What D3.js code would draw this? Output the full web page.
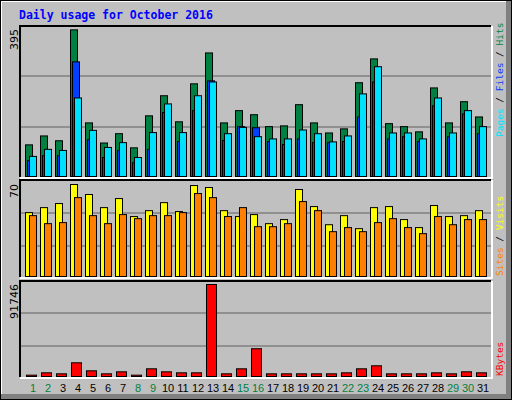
<!DOCTYPE html>
<html><head><meta charset="utf-8">
<script src="https://cdn.jsdelivr.net/npm/d3@7"></script>
<style>body{margin:0;background:#fff}svg{display:block}</style>
</head><body>
<script>
const days = d3.range(1,32);
const weekend = [1,2,8,9,15,16,22,23,29,30];
const hits  = [85,109,96,394,144,90,115,77,163,217,147,249,332,144,177,166,134,136,193,144,117,128,252,316,142,134,120,238,144,201,160];
const files = [43,56,56,308,99,51,70,37,73,172,94,177,257,97,134,131,94,86,101,91,91,94,160,254,101,107,94,190,107,168,115];
const pages = [54,73,70,211,124,78,91,51,118,195,118,217,254,115,132,107,101,101,125,115,93,109,222,295,117,117,101,211,117,177,134];
const visits= [48.6,52.4,55.5,70,62.4,52.4,59.3,45.6,50.1,56.2,49.4,69.2,67.7,50.1,45.6,47.1,40.2,43.3,66.2,53.2,39.4,46.3,36.4,52.4,53.2,43.3,37.2,54,45.6,46.3,50.1];
const sites = [46.3,40.2,41,60,46.3,40.2,47.1,44,46.3,46.3,48.6,63.1,60,45.6,52.4,37.9,37.9,40.2,57,50.1,34.1,37.2,34.1,41,44,37.2,32.6,45.6,39.4,43.3,43.3];
const kbytes= [1334,3670,2670,13680,5670,2670,4670,1334,7670,4670,3670,3670,91746,2670,7670,27690,2670,2670,2670,2670,2670,3670,7670,10680,2670,2670,2670,3670,2670,4670,3670];
const maxHits=395, maxVisits=70, maxKB=91746;

const W=512,H=400;
const svg=d3.select("body").append("svg").attr("width",W).attr("height",H);
svg.append("rect").attr("width",W).attr("height",H).attr("fill","#c0c0c0");
svg.append("path").attr("d",`M1,${H-1}V1H${W-1}`).attr("stroke","#fff").attr("stroke-width",2).attr("fill","none");
svg.append("rect").attr("x",W-6).attr("y",0).attr("width",6).attr("height",H).attr("fill","#808080");
svg.append("rect").attr("x",0).attr("y",H-6).attr("width",W).attr("height",6).attr("fill","#808080");
svg.append("rect").attr("x",0.5).attr("y",0.5).attr("width",W-1).attr("height",H-1).attr("fill","none").attr("stroke","#000");

svg.append("text").attr("x",19).attr("y",19).text("Daily usage for October 2016")
 .attr("font-family","DejaVu Sans Mono").attr("font-weight","bold").attr("font-size",11.5).attr("fill","#0000ff");

const x=d3.scaleBand().domain(days).range([25,490]).paddingInner(0);
const L=20,R=491;

function panel(y0,y1){
  svg.append("rect").attr("x",L).attr("y",y0).attr("width",R-L).attr("height",y1-y0).attr("fill","#c0c0c0");
  svg.append("path").attr("d",`M${L},${y1}V${y0}H${R}`).attr("stroke","#000").attr("stroke-width",2).attr("fill","none");
  svg.append("path").attr("d",`M${L},${y1+1}H${R+1}V${y0}`).attr("stroke","#fff").attr("stroke-width",2).attr("fill","none");
}
function grid(ys){ys.forEach(v=>svg.append("line").attr("x1",L+1).attr("x2",R).attr("y1",v).attr("y2",v).attr("stroke","#808080").attr("stroke-width",1.5));}
function bars(data,y,off,w,color){
  svg.append("g").selectAll("rect").data(data).join("rect")
   .attr("x",(d,i)=>x(days[i])+off+0.5).attr("width",w)
   .attr("y",d=>y(d)+0.5).attr("height",d=>Math.max(0,y.range()[0]-y(d)))
   .attr("fill",color).attr("stroke","#000").attr("stroke-width",1);
}
function vlabel(xp,yp,parts,anchor,fs,fam){
  const t=svg.append("text").attr("transform",`translate(${xp},${yp}) rotate(-90)`)
   .attr("font-family",fam||"DejaVu Sans Mono").attr("font-size",fs||9.5).attr("text-anchor",anchor||"end");
  parts.forEach(p=>t.append("tspan").text(p[0]).attr("fill",p[1]));
}

panel(26,177);
const y1=d3.scaleLinear().domain([0,maxHits]).range([176,29]);
grid([76,127]);
bars(hits,y1,0,7,"#008040");
bars(files,y1,2,7,"#0040ff");
bars(pages,y1,4,7,"#00e0ff");
vlabel(18,29,[["395","#000"]],"end",11,"DejaVu Sans");
vlabel(503,137,[["Pages","#00e0ff"],[" / ","#000"],["Files","#0040ff"],[" / ","#000"],["Hits","#008040"]],"start");

panel(180,277);
const y2=d3.scaleLinear().domain([0,maxVisits]).range([276,184]);
grid([213,246]);
bars(visits,y2,0,7,"#ffff00");
bars(sites,y2,4,7,"#ff8000");
vlabel(18,184,[["70","#000"]],"end",11,"DejaVu Sans");
vlabel(503,276,[["Sites","#ff8000"],[" / ","#000"],["Visits","#ffff00"]],"start");

panel(281,377);
const y3=d3.scaleLinear().domain([0,maxKB]).range([376,284]);
grid([313,346]);
bars(kbytes,y3,1,10,"#ff0000");
vlabel(18,284,[["91746","#000"]],"end",11,"DejaVu Sans");
vlabel(503,376,[["KBytes","#ff0000"]],"start");

svg.append("g").selectAll("text").data(days).join("text")
 .attr("x",d=>x(d)+8).attr("y",392).attr("text-anchor","middle")
 .attr("font-family","Liberation Sans").attr("font-size",11)
 .attr("fill",d=>weekend.includes(d)?"#008040":"#000").text(d=>d);
</script>
</body></html>
